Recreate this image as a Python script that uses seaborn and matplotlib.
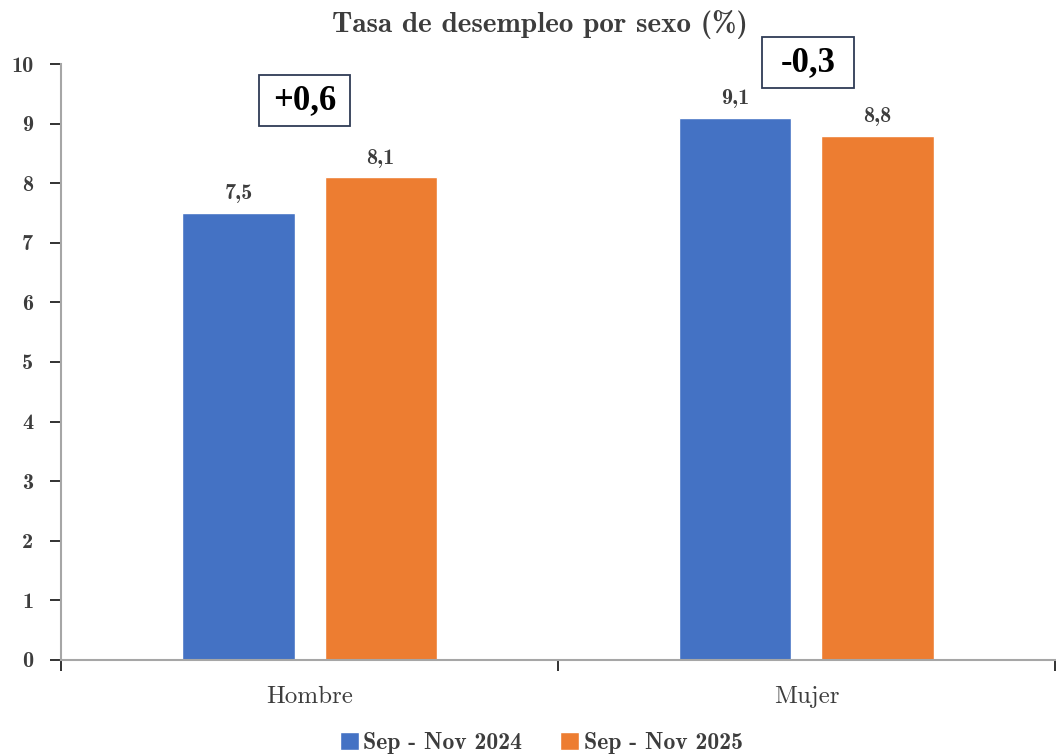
import pandas as pd
import matplotlib.pyplot as plt
import seaborn as sns
from matplotlib.patches import Rectangle

# datos
sexo = ["Hombre", "Mujer"]
periodos = ["Sep - Nov 2024", "Sep - Nov 2025"]
tasa_2024 = [7.5, 9.1]
tasa_2025 = [8.1, 8.8]
variacion = ["+0,6", "-0,3"]

df = pd.DataFrame({
    "Sexo": sexo * 2,
    "Periodo": [periodos[0]] * 2 + [periodos[1]] * 2,
    "Tasa": tasa_2024 + tasa_2025,
})

sns.set_style("white")
plt.rcParams["font.family"] = ["cmb10", "DejaVu Serif"]
plt.rcParams["axes.unicode_minus"] = False

txt = "#3d3d3d"
fig = plt.figure(figsize=(10.56, 7.54), dpi=100)
ax = fig.add_axes([0.0578, 0.1247, 0.9412, 0.7904])

sns.barplot(data=df, x="Sexo", y="Tasa", hue="Periodo", order=sexo,
            hue_order=periodos, palette=["#4472C4", "#ED7D31"], saturation=1,
            width=0.572, gap=0.211, ax=ax, legend=True)

for cont in ax.containers:
    ax.bar_label(cont, labels=[f"{v:.1f}".replace(".", ",") for v in cont.datavalues],
                 padding=7, fontsize=16, color=txt, fontfamily=["cmb10", "DejaVu Serif"])

# cuadros de variacion (tamano fijo, como en el original)
box_w, box_h = 0.184, 0.86
box_pos = [(-0.01, 9.39), (1.003, 10.03)]
for t, (bx, by) in zip(variacion, box_pos):
    ax.add_patch(Rectangle((bx - box_w / 2, by - box_h / 2), box_w, box_h,
                           fc="white", ec="#2f3b55", lw=1.3, clip_on=False, zorder=5))
    ax.text(bx, by, t, ha="center", va="center", fontsize=25, fontweight="bold",
            family="Liberation Serif", color="black", clip_on=False, zorder=6)

ax.set_xlim(-0.5, 1.5)
ax.set_ylim(0, 10)
ax.set_yticks(range(0, 11))
ax.set_xlabel("")
ax.set_ylabel("")
ax.set_xticks([-0.5, 0.5, 1.5], minor=False)
ax.set_xticklabels([])
ax.set_xticks([0, 1], minor=True)
ax.set_xticklabels(sexo, minor=True, fontfamily=["cmr10", "DejaVu Serif"],
                   fontsize=18, color=txt)
ax.tick_params(axis="x", which="minor", length=0, pad=19)
ax.tick_params(axis="x", which="major", direction="out", length=8, width=1.3,
               color="#222222", bottom=True)
ax.tick_params(axis="y", direction="out", length=8, width=1.3, color="#222222",
               left=True, labelsize=16, labelcolor=txt, pad=12)

for s in ["top", "right"]:
    ax.spines[s].set_visible(False)
for s in ["left", "bottom"]:
    ax.spines[s].set_color("#a6a6a6")
    ax.spines[s].set_linewidth(1.5)

leg = ax.legend(loc="center", bbox_to_anchor=(0.483, -0.139), ncol=2,
                frameon=False, fontsize=17, handlelength=0.8, handleheight=0.8,
                handletextpad=0.2, columnspacing=1.6)
for t in leg.get_texts():
    t.set_color(txt)

fig.text(0.511, 0.968, "Tasa de desempleo por sexo (%)", ha="center", va="center",
         fontsize=21, color=txt)

fig.savefig("out.png", dpi=100)
